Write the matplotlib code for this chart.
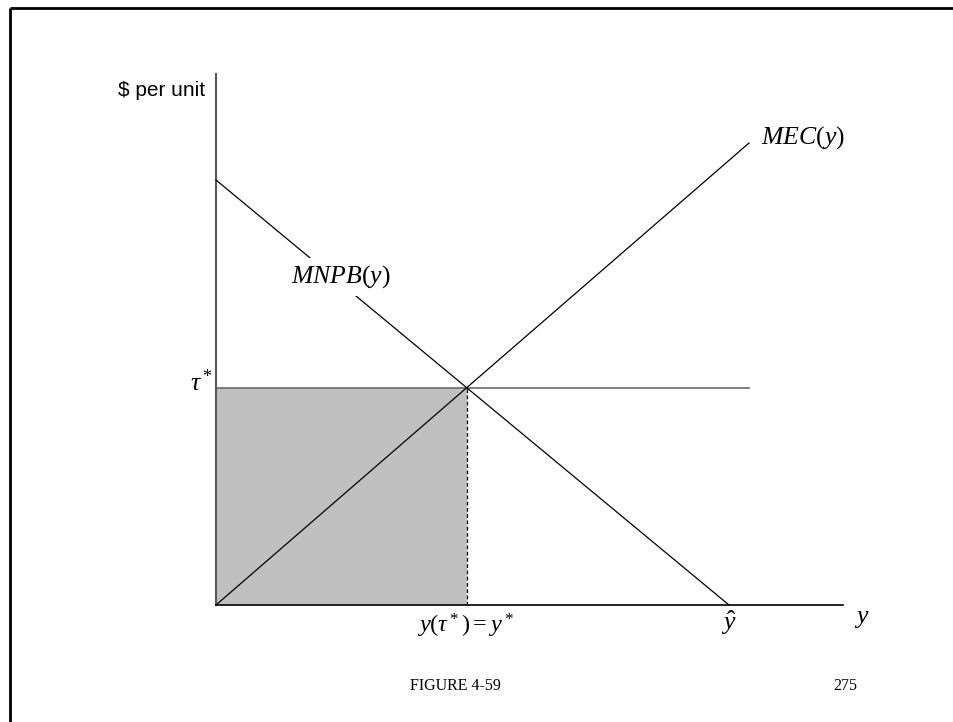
import matplotlib
matplotlib.use("Agg")
import matplotlib.pyplot as plt
from matplotlib.lines import Line2D
import numpy as np

# Model: marginal net private benefit falls linearly to y_hat,
# marginal external cost rises linearly from the origin.
mnpb_x = [0.0, 10.0]          # y values (0 and y_hat)
mnpb_v = [10.0, 0.0]          # MNPB(y) at those points
mec_x = [0.0, 10.39]
mec_v = [0.0, 10.87]
axis_x_max = 12.22
axis_y_max = 12.49
tau_line_end = 10.39

# Intersection gives optimal emission y* and tax tau*
s1 = (mnpb_v[1] - mnpb_v[0]) / (mnpb_x[1] - mnpb_x[0])
s2 = (mec_v[1] - mec_v[0]) / (mec_x[1] - mec_x[0])
y_star = (mnpb_v[0] - mec_v[0]) / (s2 - s1)
tau_star = mec_v[0] + s2 * y_star

plt.rcParams["mathtext.fontset"] = "custom"
plt.rcParams["mathtext.rm"] = "Liberation Serif"
plt.rcParams["mathtext.it"] = "Liberation Serif:italic"
plt.rcParams["mathtext.bf"] = "Liberation Serif:bold"

W, H = 954, 722
fig = plt.figure(figsize=(W / 100, H / 100), dpi=100)
fig.patch.set_facecolor("white")

ox, oy = 216, 605          # origin in pixels
sx, sy = 51.3, 42.5        # pixels per unit
ax = fig.add_axes([0, 0, 1, 1])
ax.set_xlim(-ox / sx, (W - ox) / sx)
ax.set_ylim(-(H - oy) / sy, oy / sy)
ax.axis("off")

# page frame (top and left edges)
fig.add_artist(Line2D([10 / W, 1], [1 - 8 / H, 1 - 8 / H], transform=fig.transFigure,
                      color="black", lw=2.0, solid_capstyle="butt"))
fig.add_artist(Line2D([10 / W, 10 / W], [0, 1 - 8 / H], transform=fig.transFigure,
                      color="black", lw=2.0, solid_capstyle="butt"))

# shaded tax revenue rectangle
ax.fill_between([0, y_star], 0, tau_star, color="#c0c0c0", lw=0, zorder=1)

# axes
ax.plot([0, 0], [0, axis_y_max], color="#5a5a5a", lw=1.5, zorder=3)
ax.plot([0, axis_x_max], [0, 0], color="black", lw=1.2, zorder=3)

# tax line
ax.plot([0, tau_line_end], [tau_star, tau_star], color="#6a6a6a", lw=1.2, zorder=2)

# curves
ax.plot(mnpb_x, mnpb_v, color="black", lw=0.9, zorder=4)
ax.plot(mec_x, mec_v, color="black", lw=0.9, zorder=4)

# dashed drop line at y*
ax.plot([y_star, y_star], [0, tau_star], color="black", lw=0.9,
        dashes=(3, 2), zorder=4)

def px(x):
    return (x - ox) / sx

def py(y):
    return (oy - y) / sy

fs = 18.5
ax.text(px(205), py(90), "$ per unit", family="Liberation Sans", fontsize=15,
        ha="right", va="center")
ax.text(px(190), py(384), r"$\tau^*$", fontsize=fs, ha="left", va="center")
ax.text(px(291), py(277), r"$MNPB(y)$", fontsize=fs, ha="left", va="center",
        zorder=6, bbox=dict(facecolor="white", edgecolor="none", pad=4))
ax.text(px(761), py(138), r"$MEC(y)$", fontsize=fs, ha="left", va="center")
ax.text(px(465), py(626), r"$y(\tau^*) = y^*$", fontsize=17.5, ha="center", va="center")
ax.text(mnpb_x[1], py(623), r"$\hat{y}$", fontsize=fs, ha="center", va="center")
ax.text(px(862), py(617), r"$y$", fontsize=fs, ha="center", va="center")

ax.text(px(455), py(686), "FIGURE 4-59", family="Liberation Serif", fontsize=11.5,
        ha="center", va="center")
ax.text(px(845), py(686), "275", family="Liberation Serif", fontsize=11.5,
        ha="center", va="center")

fig.savefig("out.png", dpi=100, facecolor="white")
